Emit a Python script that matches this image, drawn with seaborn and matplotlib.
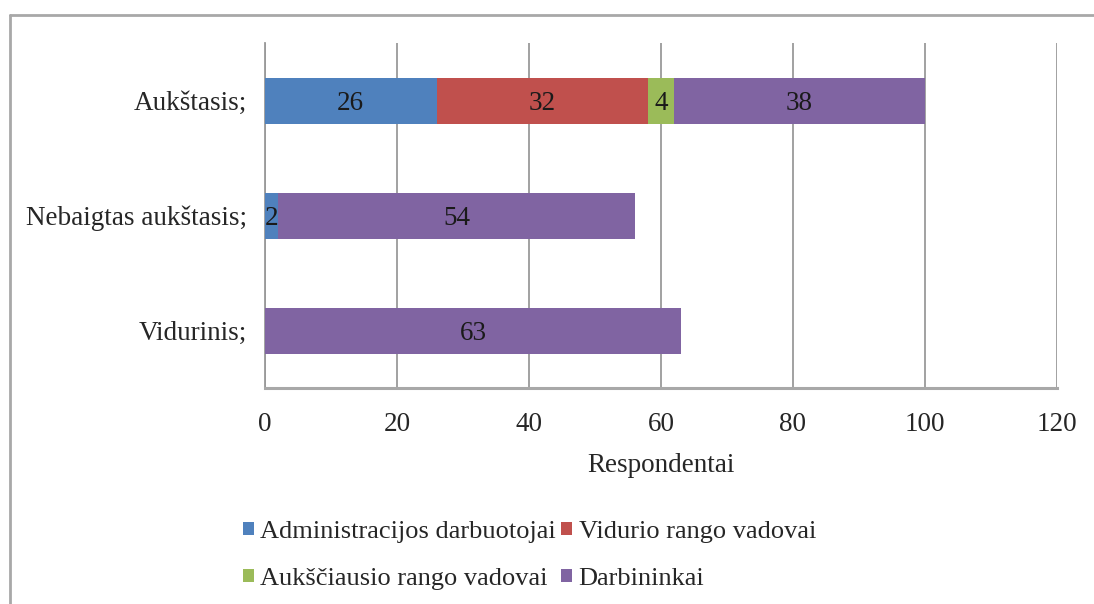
import numpy as np
import pandas as pd
import matplotlib
matplotlib.use("Agg")
import matplotlib.pyplot as plt
from matplotlib.patches import Patch
from matplotlib.lines import Line2D
import seaborn as sns

# Education levels (top to bottom) and respondent counts per staff group
categories = ["Aukštasis;", "Nebaigtas aukštasis;", "Vidurinis;"]
groups = ["Administracijos darbuotojai", "Vidurio rango vadovai",
          "Aukščiausio rango vadovai", "Darbininkai"]
administracija = [26, 2, 0]
vidurio_vadovai = [32, 0, 0]
auksciausio_vadovai = [4, 0, 0]
darbininkai = [38, 54, 63]
colors = ["#4F81BD", "#C0504D", "#9BBB59", "#8064A2"]
x_ticks = [0, 20, 40, 60, 80, 100, 120]
x_label = "Respondentai"

sns.set_style("white")
plt.rcParams["font.family"] = ["Liberation Serif", "DejaVu Serif"]
FS = 19.5
LEG_FS = 19

series = [administracija, vidurio_vadovai, auksciausio_vadovai, darbininkai]
vals = np.array(series, dtype=float)
cum = np.cumsum(vals, axis=0)

fig = plt.figure(figsize=(10.94, 6.04), dpi=100)
ax = fig.add_axes([265 / 1094, 1 - 388 / 604, (1057 - 265) / 1094, (388 - 43) / 604])

# Stacked bars: draw cumulative totals from the outermost segment inwards
for i in range(len(series) - 1, -1, -1):
    df = pd.DataFrame({"cat": categories, "val": cum[i]})
    sns.barplot(data=df, x="val", y="cat", orient="h", color=colors[i],
                saturation=1, width=0.4, linewidth=0, ax=ax, zorder=3)

# Segment value labels
for i in range(len(series)):
    for j in range(len(categories)):
        v = vals[i, j]
        if v > 0:
            ax.text(cum[i, j] - v / 2, j, f"{int(v)}", ha="center", va="center_baseline",
                    fontsize=FS, color="#1a1a1a", zorder=5)

ax.set_xlim(0, 120)
ax.set_ylim(2.5, -0.5)
ax.set_xticks(x_ticks)
ax.set_xticklabels([str(t) for t in x_ticks], fontsize=FS)
ax.set_yticks(range(len(categories)))
ax.set_yticklabels(categories, fontsize=FS)
ax.set_yticks([-0.5, 0.5, 1.5, 2.5], minor=True)
ax.tick_params(axis="y", which="major", length=0, pad=13)
ax.tick_params(axis="y", which="minor", length=6, width=1.2, color="#9a9a9a", direction="out")
ax.tick_params(axis="x", which="major", length=6, width=1.2, color="#9a9a9a", direction="out", pad=11)
ax.set_xlabel(x_label, fontsize=FS, labelpad=12)
ax.set_ylabel("")

ax.grid(axis="x", color="#9a9a9a", linewidth=1.3, zorder=0)
ax.grid(axis="y", visible=False)
ax.set_axisbelow(True)
for side in ["top", "right"]:
    ax.spines[side].set_visible(False)
ax.spines["left"].set_color("#9a9a9a")
ax.spines["left"].set_linewidth(1.3)
ax.spines["bottom"].set_color("#a8a8a8")
ax.spines["bottom"].set_linewidth(2.2)

# Legend: two rows, filled row by row
order = [0, 2, 1, 3]
handles = [Patch(facecolor=colors[k], edgecolor="none") for k in order]
labels = [groups[k] for k in order]
fig.legend(handles, labels, ncol=2, loc="upper left",
           bbox_to_anchor=(230 / 1094, 1 - 508 / 604), frameon=False,
           fontsize=LEG_FS, handlelength=0.4, handleheight=0.4, handletextpad=0.25,
           columnspacing=0.2, labelspacing=0.95, borderpad=0)

# Outer chart frame
frame_kw = dict(color="#a8a8a8", linewidth=2.0, transform=fig.transFigure)
fig.add_artist(Line2D([10 / 1094, 1.0], [1 - 15 / 604, 1 - 15 / 604], **frame_kw))
fig.add_artist(Line2D([10 / 1094, 10 / 1094], [1 - 15 / 604, 0.0], **frame_kw))

fig.savefig("out.png", dpi=100, facecolor="white")
